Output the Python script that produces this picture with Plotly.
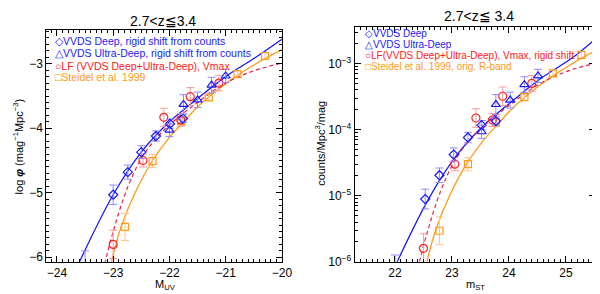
import plotly.graph_objects as go

# ---------------- Left panel data (absolute UV magnitude, log phi) ----------------
deep_M = [-23.5, -23.0, -22.74, -22.5, -22.24, -21.99, -21.76]
deep_logphi = [-6.35, -5.03, -4.68, -4.37, -4.12, -3.93, -3.85]
deep_err = [0.45, 0.15, 0.11, 0.10, 0.08, 0.07, 0.06]

udeep_M = [-22.0, -21.75, -21.5, -21.25, -21.0]
udeep_logphi = [-4.03, -3.63, -3.56, -3.33, -3.19]
udeep_err = [0.10, 0.15, 0.12, 0.12, 0.10]

vmax_M = [-23.0, -22.47, -22.1, -21.8, -21.63, -21.12]
vmax_logphi = [-5.80, -4.50, -3.83, -3.87, -3.51, -3.30]
vmax_err = [0.22, 0.10, 0.14, 0.10, 0.14, 0.12]

steidel_M = [-22.79, -22.3, -21.79, -21.3, -20.79, -20.3]
steidel_logphi = [-5.53, -4.51, -3.89, -3.52, -3.16, -2.88]
steidel_err = [0.21, 0.10, 0.06, 0.05, 0.05, 0.05]

# model curves (left)
blue_fit_M = [-23.6, -23.0, -22.5, -22.0, -21.5, -21.0, -20.5, -20.0]
blue_fit_log = [-6.07, -5.03, -4.37, -3.90, -3.54, -3.20, -2.92, -2.62]
orange_fit_M = [-23.03, -22.86, -22.6, -22.3, -22.0, -21.8, -21.5, -21.0, -20.5, -20.0]
orange_fit_log = [-6.07, -5.53, -4.98, -4.50, -4.14, -3.95, -3.67, -3.31, -3.02, -2.78]
red_fit_M = [-23.15, -23.0, -22.75, -22.5, -22.25, -22.0, -21.5, -21.0, -20.5, -20.0]
red_fit_log = [-6.10, -5.60, -4.93, -4.47, -4.17, -3.95, -3.60, -3.30, -3.11, -2.99]

# ---------------- Right panel data (apparent ST magnitude, counts/Mpc^3/mag) ----------------
deep_m = [22.0, 22.53, 22.78, 23.03, 23.28, 23.52, 23.77]
deep_n = [4.5e-7, 8.9e-6, 2.04e-5, 4.2e-5, 7.6e-5, 1.17e-4, 1.35e-4]
deep_nerr = [0.45, 0.15, 0.11, 0.10, 0.08, 0.07, 0.06]

udeep_m = [23.52, 23.77, 24.02, 24.27, 24.51]
udeep_n = [9.3e-5, 2.4e-4, 2.8e-4, 4.8e-4, 6.5e-4]
udeep_nerr = [0.10, 0.15, 0.12, 0.12, 0.10]

vmax_m = [22.5, 23.05, 23.42, 23.71, 23.89, 24.40]
vmax_n = [1.6e-6, 3.0e-5, 1.5e-4, 1.4e-4, 3.2e-4, 5.0e-4]
vmax_nerr = [0.22, 0.10, 0.14, 0.10, 0.14, 0.12]

steidel_m = [22.78, 23.28, 23.77, 24.27, 24.77, 25.27]
steidel_n = [2.95e-6, 3.0e-5, 1.29e-4, 3.1e-4, 7.1e-4, 1.35e-3]
steidel_nerr = [0.21, 0.10, 0.06, 0.05, 0.05, 0.05]

blue_fit_m = [22.0, 22.6, 23.1, 23.6, 24.1, 24.6, 25.1, 25.5]
blue_fit_n = [8.5e-7, 9.3e-6, 4.3e-5, 1.26e-4, 2.9e-4, 6.3e-4, 1.2e-3, 2.3e-3]
orange_fit_m = [22.54, 22.71, 22.97, 23.27, 23.57, 23.77, 24.07, 24.57, 25.07, 25.57]
orange_fit_n = [8.5e-7, 2.95e-6, 1.05e-5, 3.16e-5, 7.2e-5, 1.12e-4, 2.14e-4, 4.9e-4, 9.5e-4, 1.66e-3]
red_fit_m = [22.40, 22.55, 22.80, 23.05, 23.30, 23.55, 24.05, 24.55, 25.05, 25.55]
red_fit_n = [7.9e-7, 2.5e-6, 1.17e-5, 3.4e-5, 6.8e-5, 1.12e-4, 2.5e-4, 5.0e-4, 7.8e-4, 1.02e-3]

left_xticks = [-24, -23, -22, -21, -20]
left_yticks = [-6, -5, -4, -3]
right_xticks = [22, 23, 24, 25]
right_yticks = [1e-6, 1e-5, 1e-4, 1e-3]
right_yticktext = ["10<sup>−6</sup>", "10<sup>−5</sup>", "10<sup>−4</sup>", "10<sup>−3</sup>"]

BLUE = "#1a1aff"
BLUE_ERR = "#8c8cff"
RED = "#ff2020"
RED_DASH = "#e8204a"
RED_ERR = "#ff9a9a"
ORANGE = "#ff9a1a"
ORANGE_ERR = "#ffc58a"

FONT = "Liberation Sans"

fig = go.Figure()


def lin_err(vals, dex, up=True):
    if up:
        return [v * (10 ** d - 1) for v, d in zip(vals, dex)]
    return [v * (1 - 10 ** (-d)) for v, d in zip(vals, dex)]


def curve(x, y, col, ax, ay, dash=None, width=1.3):
    ln = dict(color=col, width=width, shape="spline")
    if dash:
        ln["dash"] = dash
    fig.add_trace(go.Scatter(x=x, y=y, mode="lines", line=ln, xaxis=ax, yaxis=ay, showlegend=False))


def pts(x, y, err, sym, col, ecol, ax, ay, size=7, minus=None):
    e = dict(type="data", array=err, color=ecol, thickness=1, width=4)
    if minus is not None:
        e["arrayminus"] = minus
        e["symmetric"] = False
    fig.add_trace(go.Scatter(x=x, y=y, mode="markers",
                             marker=dict(symbol=sym, size=size, color=col, line=dict(color=col, width=1.2)),
                             error_y=e, xaxis=ax, yaxis=ay, showlegend=False))


# ----- left panel -----
curve(blue_fit_M, blue_fit_log, BLUE, "x", "y")
curve(orange_fit_M, orange_fit_log, ORANGE, "x", "y")
curve(red_fit_M, red_fit_log, RED_DASH, "x", "y", dash="4px,3px", width=1.2)

pts(steidel_M, steidel_logphi, steidel_err, "square-open", ORANGE, ORANGE_ERR, "x", "y")
pts(vmax_M, vmax_logphi, vmax_err, "circle-open", RED, RED_ERR, "x", "y", size=8)
pts(deep_M, deep_logphi, deep_err, "diamond-open", BLUE, BLUE_ERR, "x", "y", size=7)
pts(udeep_M, udeep_logphi, udeep_err, "triangle-up-open", BLUE, BLUE_ERR, "x", "y", size=8)

# ----- right panel -----
curve(blue_fit_m, blue_fit_n, BLUE, "x2", "y2")
curve(orange_fit_m, orange_fit_n, ORANGE, "x2", "y2")
curve(red_fit_m, red_fit_n, RED_DASH, "x2", "y2", dash="4px,3px", width=1.2)

pts(steidel_m, steidel_n, lin_err(steidel_n, steidel_nerr), "square-open", ORANGE, ORANGE_ERR, "x2", "y2",
    minus=lin_err(steidel_n, steidel_nerr, False))
pts(vmax_m, vmax_n, lin_err(vmax_n, vmax_nerr), "circle-open", RED, RED_ERR, "x2", "y2", size=8,
    minus=lin_err(vmax_n, vmax_nerr, False))
pts(deep_m, deep_n, lin_err(deep_n, deep_nerr), "diamond-open", BLUE, BLUE_ERR, "x2", "y2",
    minus=lin_err(deep_n, deep_nerr, False))
pts(udeep_m, udeep_n, lin_err(udeep_n, udeep_nerr), "triangle-up-open", BLUE, BLUE_ERR, "x2", "y2", size=8,
    minus=lin_err(udeep_n, udeep_nerr, False))

W, H = 600, 294
def px(x):
    return x / W
def py(y):
    return 1 - y / H

axis_common = dict(showgrid=False, zeroline=False, showline=True, linecolor="black", linewidth=1,
                   mirror="allticks", ticks="inside", ticklen=6, tickcolor="black",
                   tickfont=dict(family=FONT, size=12, color="black"))

fig.update_layout(
    width=W, height=H, margin=dict(l=0, r=0, t=0, b=0, pad=0),
    paper_bgcolor="white", plot_bgcolor="white",
    xaxis=dict(domain=[px(39), px(279)], range=[-24.19, -20.0], anchor="y",
               tickvals=left_xticks, ticktext=["−24", "−23", "−22", "−21", "−20"],
               minor=dict(dtick=0.1, ticks="inside", ticklen=3, tickcolor="black"), **axis_common),
    yaxis=dict(domain=[py(260), py(23)], range=[-6.07, -2.484], anchor="x",
               tickvals=left_yticks, ticktext=["−6", "−5", "−4", "−3"],
               minor=dict(dtick=0.1, ticks="inside", ticklen=3, tickcolor="black"), **axis_common),
    xaxis2=dict(domain=[px(353), px(598)], range=[21.29, 25.51], anchor="y2",
                tickvals=right_xticks,
                minor=dict(dtick=0.1, ticks="inside", ticklen=3, tickcolor="black"), **axis_common),
    yaxis2=dict(domain=[py(260), py(19)], type="log", range=[-6.0, -2.44], anchor="x2",
                tickvals=right_yticks, ticktext=right_yticktext,
                minor=dict(dtick="D1", ticks="inside", ticklen=3, tickcolor="black"), **axis_common),
)

ann = []
def text(x, y, s, color="black", size=10, xanchor="left", angle=0, family=FONT):
    ann.append(dict(x=px(x), y=py(y), xref="paper", yref="paper", text=s, showarrow=False,
                    xanchor=xanchor, yanchor="middle", textangle=angle,
                    font=dict(family=family, size=size, color=color)))

# titles
text(158, 13, "2.7&lt;z≦3.4", size=14, xanchor="center")
text(480, 8, "2.7&lt;z≦ 3.4", size=14, xanchor="center")
# axis titles
text(160, 284, "M<sub>UV</sub>", size=11, xanchor="center")
text(476, 284, "m<sub>ST</sub>", size=11, xanchor="center")
text(10, 142, "log <b><i>φ</i></b> (mag<sup>−1</sup>Mpc<sup>−3</sup>)", size=11, xanchor="center", angle=-90)
text(318, 139, "counts/Mpc<sup>3</sup>/mag", size=11, xanchor="center", angle=-90)

# legends left
text(46, 34, "◇VVDS Deep, rigid shift from counts", BLUE, size=10.5)
text(46, 46, "△VVDS Ultra-Deep, rigid shift from counts", BLUE, size=10.5)
text(46, 59, "○LF (VVDS Deep+Ultra-Deep), Vmax", RED, size=10.5)
text(46, 71, "□Steidel et al. 1999", ORANGE, size=10.5)
# legends right
text(362, 26, "◇VVDS Deep", BLUE)
text(362, 37, "△VVDS Ultra-Deep", BLUE)
text(362, 49, "○LF(VVDS Deep+Ultra-Deep), Vmax, rigid shift", RED)
text(362, 60, "□Steidel et al. 1999, orig. R-band", ORANGE)

fig.update_layout(annotations=ann)
fig.write_html("out.html")
